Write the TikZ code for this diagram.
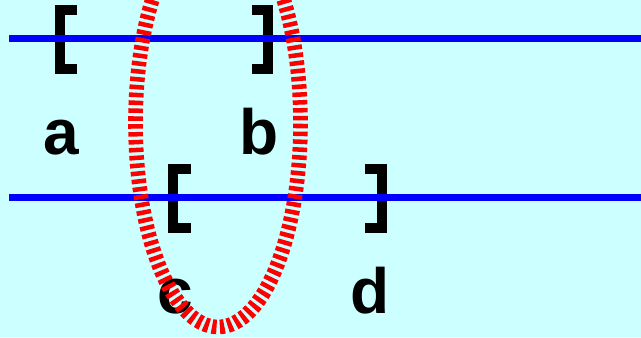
\documentclass[tikz,border=0pt]{standalone}
\usepackage{fontspec}
\setmainfont{Liberation Sans}
\definecolor{bgcyan}{HTML}{CCFFFF}
\begin{document}
\begin{tikzpicture}[
    x=0.75pt, y=-0.75pt,
    lbl/.style={font=\fontsize{48}{58}\selectfont\bfseries, anchor=base, inner sep=0pt},
    brk/.style={line width=7.5pt, line join=miter},
    track/.style={draw=blue, line width=5.6pt},
    ring/.style={draw=red, line width=11pt, dash pattern=on 3.4pt off 2.5pt},
  ]
  \fill[bgcyan] (0,0) rectangle (641,337);
  \useasboundingbox (0,0) rectangle (641,337);
  \clip (0,0) rectangle (641,337);
  % obere Reihe: Intervall [a, b]
  \draw[brk] (77,10) -- (60,10) -- (60,69) -- (77,69);
  \draw[brk] (252,10) -- (268,10) -- (268,69) -- (252,69);
  \node[lbl] (a) at (61.5,154) {a};
  \node[lbl] (b) at (259,154) {b};
  % untere Reihe: Intervall [c, d]
  \draw[brk] (191,169) -- (173,169) -- (173,228) -- (191,228);
  \draw[brk] (365,169) -- (382,169) -- (382,228) -- (365,228);
  \node[lbl] (c) at (175,313) {c};
  \node[lbl] (d) at (370,313) {d};
  % Achsen
  \coordinate (top-w) at (9,38.5);
  \coordinate (top-e) at (641,38.5);
  \coordinate (bot-w) at (9,197.5);
  \coordinate (bot-e) at (641,197.5);
  \draw[track] (top-w) -- (top-e);
  \draw[track] (bot-w) -- (bot-e);
  % Ueberlappung (Naht oben, ausserhalb des Bildes)
  \draw[ring, rotate around={90:(218,123)}] (218,123) ellipse [x radius=204, y radius=82.5];
\end{tikzpicture}
\end{document}
